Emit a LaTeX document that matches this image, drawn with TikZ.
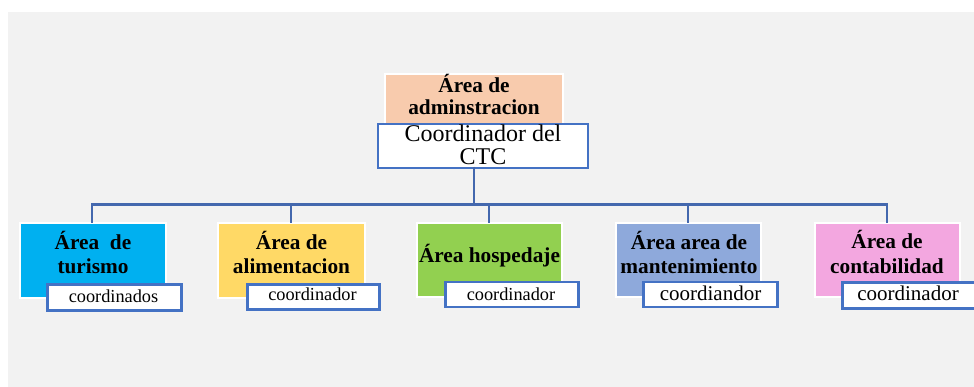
\documentclass[tikz,border=0pt]{standalone}
\usepackage{fontspec}
\setmainfont{Liberation Serif}
\definecolor{bggray}{HTML}{F2F2F2}
\definecolor{peach}{HTML}{F8CBAD}
\definecolor{cyanbox}{HTML}{00B0F0}
\definecolor{yellowbox}{HTML}{FFD966}
\definecolor{greenbox}{HTML}{92D050}
\definecolor{bluebox}{HTML}{8EA9DB}
\definecolor{pinkbox}{HTML}{F3A7E0}
\definecolor{edgeblue}{HTML}{4472C4}
\definecolor{linkblue}{HTML}{4468AE}
\begin{document}
\begin{tikzpicture}[x=1pt,y=-1pt,
  areabox/.style={draw=white,line width=2pt,inner sep=0pt,outer sep=0pt,anchor=north west},
  coordbox/.style={draw=edgeblue,fill=white,line width=2.5pt,inner sep=0pt,outer sep=0pt,anchor=north west},
  boldtxt/.style={anchor=base,inner sep=0pt,font=\fontsize{21.3}{23}\selectfont\bfseries},
  toptxt/.style={anchor=base,inner sep=0pt,font=\fontsize{24}{23}\selectfont},
  smalltxt/.style={anchor=base,inner sep=0pt,font=\fontsize{18.3}{20}\selectfont},
  bigtxt/.style={anchor=base,inner sep=0pt,font=\fontsize{21}{23}\selectfont},
  link/.style={draw=linkblue,line width=2.7pt}]
\useasboundingbox (0,0) rectangle (974,387);
\fill[bggray] (8,12) rectangle (974,387);
\begin{scope}
\clip (0,0) rectangle (974,387);
% top area box
\node[areabox,fill=peach,minimum width=178pt,minimum height=50pt] (adm) at (385,74) {};
\node[boldtxt] (adm1) at (474,93) {Área de};
\node[boldtxt] (adm2) at (474,115) {adminstracion};
% bottom area boxes
\node[areabox,fill=cyanbox,minimum width=146pt,minimum height=75pt] (tur) at (20,223) {};
\node[areabox,fill=yellowbox,minimum width=147pt,minimum height=75pt] (ali) at (218,223) {};
\node[areabox,fill=greenbox,minimum width=145pt,minimum height=74pt] (hos) at (417,223) {};
\node[areabox,fill=bluebox,minimum width=145pt,minimum height=74pt] (man) at (616,223) {};
\node[areabox,fill=pinkbox,minimum width=145pt,minimum height=74pt] (con) at (815,223) {};
% top coordinator box
\node[coordbox,minimum width=210pt,minimum height=44pt] (ctc) at (378,124) {};
\node[toptxt] (ctc1) at (483,142) {Coordinador del};
\node[toptxt] (ctc2) at (483,165) {CTC};
% connectors
\coordinate (busL) at (92,204.5);
\coordinate (busR) at (887,204.5);
\coordinate (busT) at (474,204.5);
\coordinate (busA) at (291,204.5);
\coordinate (busH) at (489,204.5);
\coordinate (busM) at (688,204.5);
\draw[link] ([yshift=1.25pt]busT |- ctc.south) -- (busT);
\draw[link,line cap=rect] (busL) -- (busR);
\draw[link] (busL) -- (busL |- tur.north);
\draw[link] (busA) -- (busA |- ali.north);
\draw[link] (busH) -- (busH |- hos.north);
\draw[link] (busM) -- (busM |- man.north);
\draw[link] (busR) -- (busR |- con.north);
% texts of area boxes
\node[boldtxt] (tur1) at (93,250) {Área~~de};
\node[boldtxt] (tur2) at (93,273) {turismo};
\node[boldtxt] (ali1) at (291.5,250) {Área de};
\node[boldtxt] (ali2) at (291.5,273) {alimentacion};
\node[boldtxt] (hos1) at (489.5,262) {Área hospedaje};
\node[boldtxt] (man1) at (689,250) {Área area de};
\node[boldtxt] (man2) at (689,273) {mantenimiento};
\node[boldtxt] (con1) at (887,249) {Área de};
\node[boldtxt] (con2) at (887,273) {contabilidad};
% coordinator boxes
\node[coordbox,minimum width=134pt,minimum height=26pt] (ctur) at (47.5,284.5) {};
\node[smalltxt] (ctur1) at (113.5,302) {coordinados};
\node[coordbox,minimum width=132pt,minimum height=25pt] (cali) at (247.5,284.5) {};
\node[smalltxt] (cali1) at (312.5,300) {coordinador};
\node[coordbox,minimum width=133pt,minimum height=25pt] (chos) at (445.5,282) {};
\node[smalltxt] (chos1) at (511,300) {coordinador};
\node[coordbox,minimum width=134pt,minimum height=25pt] (cman) at (643.5,282) {};
\node[bigtxt] (cman1) at (710.5,301) {coordiandor};
\node[coordbox,minimum width=136pt,minimum height=26pt] (ccon) at (842.5,282.5) {};
\node[bigtxt] (ccon1) at (908,301) {coordinador};
\end{scope}
\end{tikzpicture}
\end{document}
